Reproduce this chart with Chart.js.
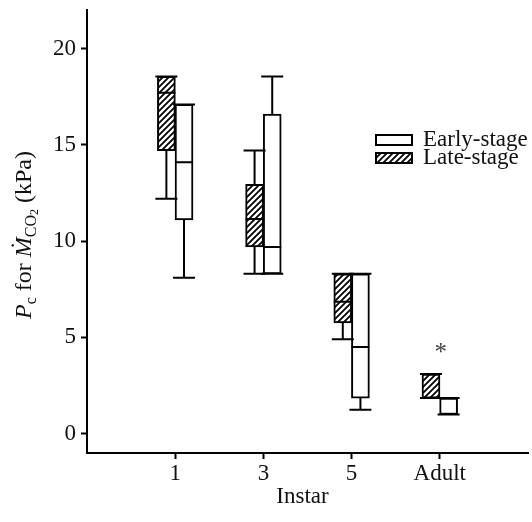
<!DOCTYPE html>
<html>
<head>
<meta charset="utf-8">
<script src="https://cdn.jsdelivr.net/npm/chart.js@4"></script>
<style>
  body { margin: 0; background: #fff; }
</style>
</head>
<body>
<canvas id="chart" width="532" height="522"></canvas>
<script>
// data (kPa)
const categories = ['1', '3', '5', 'Adult'];
const yTicks = [0, 5, 10, 15, 20];

const lateMin = [12.2, 8.3, 4.9, 1.85];
const lateQ1 = [14.7, 9.7, 5.75, 1.85];
const lateMedian = [17.7, 11.15, 6.85, null];
const lateQ3 = [18.55, 12.95, 8.3, 3.1];
const lateMax = [18.55, 14.7, 8.3, 3.1];

const earlyMin = [8.1, 8.3, 1.25, 1.0];
const earlyQ1 = [11.1, 8.3, 1.85, 1.0];
const earlyMedian = [14.1, 9.7, 4.5, null];
const earlyQ3 = [17.1, 16.6, 8.3, 1.85];
const earlyMax = [17.1, 18.55, 8.3, 1.85];

const significance = [{ category: 'Adult', value: 4.45, text: '*' }];

const FONT = '"Liberation Serif", "Times New Roman", serif';

function makeHatch() {
    const c = document.createElement('canvas');
    c.width = 6; c.height = 6;
    const g = c.getContext('2d');
    g.fillStyle = '#fff';
    g.fillRect(0, 0, 6, 6);
    g.strokeStyle = '#000';
    g.lineWidth = 1.8;
    g.beginPath();
    g.moveTo(-1, 7); g.lineTo(7, -1);
    g.moveTo(-1, 1); g.lineTo(1, -1);
    g.moveTo(5, 7); g.lineTo(7, 5);
    g.stroke();
    return g.createPattern(c, 'repeat');
}
const hatch = makeHatch();

const boxSeries = [
    { label: 'Late-stage', shift: -0.1, min: lateMin, q1: lateQ1, med: lateMedian, q3: lateQ3, max: lateMax, fill: hatch },
    { label: 'Early-stage', shift: 0.1, min: earlyMin, q1: earlyQ1, med: earlyMedian, q3: earlyQ3, max: earlyMax, fill: '#fff' }
];

// whiskers, medians, legend, titles
const boxExtras = {
    id: 'boxExtras',
    afterDatasetsDraw(chart) {
        const { ctx, scales: { x, y } } = chart;
        ctx.save();
        ctx.strokeStyle = '#000';
        ctx.lineWidth = 2;
        boxSeries.forEach(s => {
            categories.forEach((c, i) => {
                const cx = x.getPixelForValue(i + 1 + s.shift);
                const half = 9, cap = 11;
                ctx.beginPath();
                if (s.med[i] != null) {
                    const my = y.getPixelForValue(s.med[i]);
                    ctx.moveTo(cx - half, my); ctx.lineTo(cx + half, my);
                }
                const q3y = y.getPixelForValue(s.q3[i]);
                const maxy = y.getPixelForValue(s.max[i]);
                ctx.moveTo(cx, q3y); ctx.lineTo(cx, maxy);
                ctx.moveTo(cx - cap, maxy); ctx.lineTo(cx + cap, maxy);
                const q1y = y.getPixelForValue(s.q1[i]);
                const miny = y.getPixelForValue(s.min[i]);
                ctx.moveTo(cx, q1y); ctx.lineTo(cx, miny);
                ctx.moveTo(cx - cap, miny); ctx.lineTo(cx + cap, miny);
                ctx.stroke();
            });
        });
        ctx.restore();
    },
    afterDraw(chart) {
        const { ctx, chartArea, scales: { x, y } } = chart;
        ctx.save();

        // asterisk
        ctx.font = '25px ' + FONT;
        ctx.textAlign = 'center';
        ctx.textBaseline = 'alphabetic';
        significance.forEach(m => {
            const px = x.getPixelForValue(categories.indexOf(m.category) + 1);
            const py = y.getPixelForValue(m.value);
            const mt = ctx.measureText(m.text);
            ctx.fillStyle = '#444';
            ctx.fillText(m.text, px + 1, py + (mt.actualBoundingBoxAscent - mt.actualBoundingBoxDescent) / 2);
        });

        // legend
        ctx.font = '23px ' + FONT;
        ctx.textAlign = 'left';
        ctx.textBaseline = 'middle';
        ctx.strokeStyle = '#000';
        ctx.lineWidth = 2;
        [boxSeries[1], boxSeries[0]].forEach((s, k) => {
            const ly = 135 + k * 18;
            ctx.fillStyle = s.fill;
            ctx.fillRect(376, ly, 36, 10);
            ctx.strokeRect(376, ly, 36, 10);
            ctx.fillStyle = '#111';
            ctx.fillText(s.label, 423, ly + 5);
        });

        // x title
        ctx.textAlign = 'center';
        ctx.font = '23px ' + FONT;
        ctx.fillText('Instar', (chartArea.left + chartArea.right) / 2 - 5, 497);

        // y title with subscripts
        const parts = [
            { t: 'P', f: 'italic 24px ' + FONT, dy: 0 },
            { t: 'c', f: '16px ' + FONT, dy: 5 },
            { t: ' for ', f: '24px ' + FONT, dy: 0 },
            { t: 'Ṁ', f: 'italic 24px ' + FONT, dy: 0 },
            { t: 'CO', f: '16px ' + FONT, dy: 5 },
            { t: '2', f: '12px ' + FONT, dy: 7 },
            { t: ' (kPa)', f: '24px ' + FONT, dy: 0 }
        ];
        let total = 0;
        parts.forEach(p => { ctx.font = p.f; p.w = ctx.measureText(p.t).width; total += p.w; });
        ctx.translate(31, 235);
        ctx.rotate(-Math.PI / 2);
        ctx.textAlign = 'left';
        ctx.textBaseline = 'alphabetic';
        let px = -total / 2;
        parts.forEach(p => {
            ctx.font = p.f;
            ctx.fillText(p.t, px, p.dy);
            px += p.w;
        });
        ctx.restore();
    }
};

const axisGrid = { display: true, drawOnChartArea: false, drawTicks: true, tickLength: 6, tickColor: '#000', tickWidth: 2, offset: false };
const axisBorder = { display: true, color: '#000', width: 2 };

new Chart(document.getElementById('chart'), {
    type: 'bar',
    data: {
        datasets: boxSeries.map(s => ({
            label: s.label,
            data: categories.map((c, i) => ({ x: i + 1 + s.shift, y: [s.q1[i], s.q3[i]] })),
            backgroundColor: s.fill,
            borderColor: '#000',
            borderWidth: 2,
            borderSkipped: false,
            barThickness: 18,
            grouped: false
        }))
    },
    options: {
        responsive: false,
        animation: false,
        layout: { padding: { left: 0, right: 4, top: 10, bottom: 0 } },
        plugins: { legend: { display: false }, tooltip: { enabled: false } },
        scales: {
            x: {
                type: 'linear',
                min: 0,
                max: 5,
                offset: false,
                afterBuildTicks: s => { s.ticks = [1, 2, 3, 4].map(v => ({ value: v })); },
                afterFit: s => { s.height = 69; s.paddingLeft = 0; s.paddingRight = 0; },
                ticks: {
                    callback: v => categories[v - 1],
                    font: { family: FONT, size: 23 },
                    color: '#111',
                    padding: 1,
                    maxRotation: 0,
                    autoSkip: false
                },
                grid: axisGrid,
                border: axisBorder
            },
            y: {
                min: -1,
                max: 22,
                afterBuildTicks: s => { s.ticks = yTicks.map(v => ({ value: v })); },
                afterFit: s => { s.width = 87; s.paddingTop = 0; s.paddingBottom = 0; },
                ticks: {
                    font: { family: FONT, size: 23 },
                    color: '#111',
                    padding: 5
                },
                grid: axisGrid,
                border: axisBorder
            }
        }
    },
    plugins: [boxExtras]
});
</script>
</body>
</html>
